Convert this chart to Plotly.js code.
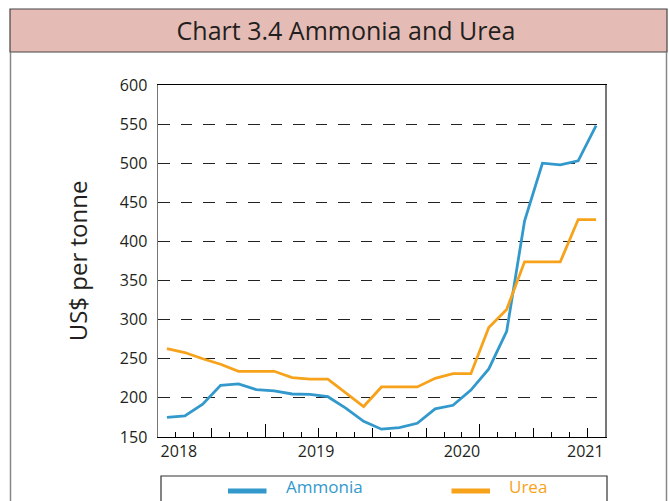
<!DOCTYPE html>
<html>
<head>
<meta charset="utf-8">
<script src="https://cdn.plot.ly/plotly-3.0.1.min.js"></script>
<style>
  html, body { margin: 0; padding: 0; background: #fff; }
  #chart { width: 669px; height: 501px; }
</style>
</head>
<body>
<div id="chart"></div>
<script>
// ---- data (monthly observations, index 0..24) ----
const periods = [0,1,2,3,4,5,6,7,8,9,10,11,12,13,14,15,16,17,18,19,20,21,22,23,24];
const ammonia = [175,177,192,216,218,210.5,209,205,204.5,201.5,187,170,160,162,167.5,186,190.5,210,237,285,426,500,498,503,548];
const urea    = [263,258,250,243,234,234,234,226,224,224,206,189,214,214,214,225,231,231,290,313,374,374,374,428,428];
const yearLabels = ['2018','2019','2020','2021'];
const yearLabelPos = [0.67, 8.34, 16.5, 23.4];
const seriesNames = ['Ammonia','Urea'];
const seriesColors = ['#3399cc','#f7a21b'];

// ---- geometry helpers (plot area 158..605 x 85..437 px) ----
const L = 158, R = 605, T = 85, B = 437;
const px = X => (X - L) / (R - L);
const py = Y => (B - Y) / (B - T);

const xRange = [-0.5, periods.length - 0.5];
const boundaries = periods.slice(1).map(i => i - 0.5);
const tallTicks = boundaries.filter(b => (b + 0.5) % 12 === 6);
const medTicks = boundaries.filter(b => (b + 0.5) % 3 === 0 && (b + 0.5) % 12 !== 6);
const minorTicks = boundaries.filter(b => (b + 0.5) % 3 !== 0);

const font = 'Open Sans, Noto Sans, sans-serif';
const ink = '#231f20';

const traces = [
  {x: periods, y: ammonia, name: seriesNames[0], type: 'scatter', mode: 'lines',
   line: {color: seriesColors[0], width: 2.8}, showlegend: false},
  {x: periods, y: urea, name: seriesNames[1], type: 'scatter', mode: 'lines',
   line: {color: seriesColors[1], width: 2.8}, showlegend: false},
  // empty helper traces so the tick-only overlay axes are created
  {x: [], y: [], xaxis: 'x2', yaxis: 'y', type: 'scatter', mode: 'lines', showlegend: false, hoverinfo: 'skip'},
  {x: [], y: [], xaxis: 'x3', yaxis: 'y', type: 'scatter', mode: 'lines', showlegend: false, hoverinfo: 'skip'},
  {x: [], y: [], xaxis: 'x4', yaxis: 'y', type: 'scatter', mode: 'lines', showlegend: false, hoverinfo: 'skip'}
];

function tickAxis(vals, len) {
  return {overlaying: 'x', anchor: 'y', side: 'bottom', range: xRange, autorange: false,
    tickmode: 'array', tickvals: vals,
    ticks: 'inside', ticklen: len, tickwidth: 1, tickcolor: '#000',
    showticklabels: false, showgrid: false, zeroline: false, showline: false, fixedrange: true};
}

const layout = {
  width: 669, height: 501,
  margin: {l: L, r: 669 - R, t: T, b: 501 - B, pad: 0},
  paper_bgcolor: '#fff', plot_bgcolor: '#fff',
  font: {family: font, color: ink, size: 16},
  title: {text: 'Chart 3.4 Ammonia and Urea', font: {family: font, size: 25, color: ink},
          xref: 'container', yref: 'container', x: 346 / 669, y: 1 - 31 / 501,
          xanchor: 'center', yanchor: 'middle'},
  xaxis: {range: xRange, tickmode: 'array', tickvals: yearLabelPos, ticktext: yearLabels,
          ticks: '', showgrid: false, zeroline: false, showline: true, mirror: true,
          linecolor: '#000', linewidth: 1.2, tickfont: {size: 16, color: ink}, fixedrange: true},
  xaxis2: tickAxis(minorTicks, 5),
  xaxis3: tickAxis(medTicks, 9),
  xaxis4: tickAxis(tallTicks, 13),
  yaxis: {range: [150, 600], tickmode: 'linear', tick0: 150, dtick: 50, ticks: '',
          showgrid: true, gridcolor: '#222', gridwidth: 1, griddash: '11.5px,11px',
          zeroline: false, showline: true, mirror: true, linecolor: '#777', linewidth: 1.5,
          tickfont: {size: 16, color: ink}, ticklabelstandoff: 6,
          title: {text: 'US$ per tonne', font: {size: 24, color: ink}, standoff: 25},
          fixedrange: true},
  shapes: [
    // title band
    {type: 'rect', xref: 'paper', yref: 'paper', x0: px(10), x1: px(667), y0: py(9), y1: py(52),
     fillcolor: '#e5bcb5', line: {color: '#444', width: 1.2}, layer: 'below'},
    // outer frame sides
    {type: 'line', xref: 'paper', yref: 'paper', x0: px(10.5), x1: px(10.5), y0: py(52), y1: py(510),
     line: {color: '#888', width: 1.5}},
    {type: 'line', xref: 'paper', yref: 'paper', x0: px(666.5), x1: px(666.5), y0: py(52), y1: py(510),
     line: {color: '#888', width: 1.5}},
    // legend box
    {type: 'rect', xref: 'paper', yref: 'paper', x0: px(161), x1: px(607), y0: py(476), y1: py(530),
     line: {color: '#333', width: 1.2}, fillcolor: 'rgba(0,0,0,0)'},
    // legend samples
    {type: 'line', xref: 'paper', yref: 'paper', x0: px(228), x1: px(266.5), y0: py(491), y1: py(491),
     line: {color: seriesColors[0], width: 5}},
    {type: 'line', xref: 'paper', yref: 'paper', x0: px(451.5), x1: px(490), y0: py(491), y1: py(491),
     line: {color: seriesColors[1], width: 5}}
  ],
  annotations: [
    {xref: 'paper', yref: 'paper', x: px(284), y: py(500), xanchor: 'left', yanchor: 'bottom',
     text: seriesNames[0], showarrow: false, font: {size: 17, color: seriesColors[0]}},
    {xref: 'paper', yref: 'paper', x: px(507), y: py(500), xanchor: 'left', yanchor: 'bottom',
     text: seriesNames[1], showarrow: false, font: {size: 17, color: seriesColors[1]}}
  ]
};

Plotly.newPlot('chart', traces, layout, {staticPlot: true, displayModeBar: false});
</script>
</body>
</html>
